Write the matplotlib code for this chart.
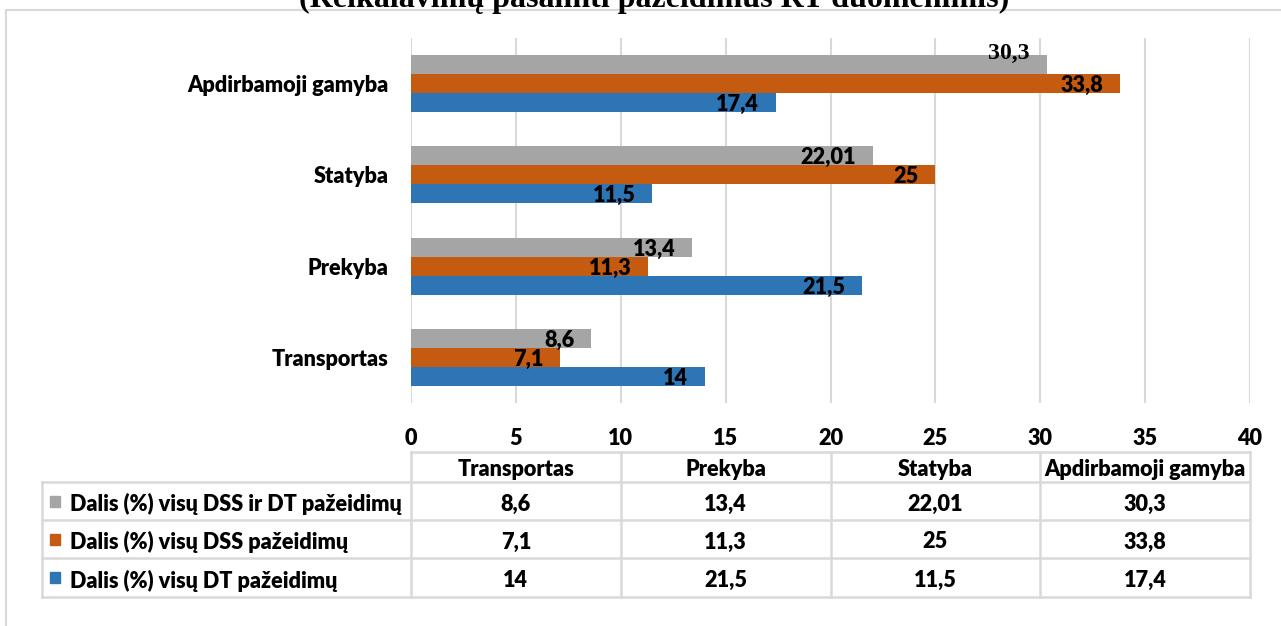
import numpy as np
import matplotlib.pyplot as plt
from matplotlib.patches import Rectangle
from matplotlib.lines import Line2D

# Data
categories = ['Transportas', 'Prekyba', 'Statyba', 'Apdirbamoji gamyba']
series_names = ['Dalis (%) visų DSS ir DT pažeidimų',
                'Dalis (%) visų DSS pažeidimų',
                'Dalis (%) visų DT pažeidimų']
dss_dt = [8.6, 13.4, 22.01, 30.3]
dss = [7.1, 11.3, 25, 33.8]
dt = [14, 21.5, 11.5, 17.4]
series = [dss_dt, dss, dt]
colors = ['#a5a5a5', '#c55a11', '#2e75b6']
x_ticks = np.arange(0, 45, 5)
title = '(Reikalavimų pašalinti pažeidimus RT duomenimis)'

FONT = 'Lato'
WEIGHT = 'heavy'
FS = 15.6
GRID = '#d9d9d9'
W, H = 1281, 626


def fmt(v):
    return f'{v:g}'.replace('.', ',')


def px(x0, y0, x1, y1):
    '''pixel box (top-left origin) -> figure fraction rect'''
    return [x0 / W, 1 - y1 / H, (x1 - x0) / W, (y1 - y0) / H]


fig = plt.figure(figsize=(W / 100, H / 100), dpi=100)

# outer chart frame (cut by the image border)
fig.add_artist(Line2D([5.5 / W, 5.5 / W], [0, 1 - 10 / H], color=GRID, lw=1.5))
fig.add_artist(Line2D([5.5 / W, 1], [1 - 10 / H, 1 - 10 / H], color=GRID, lw=1.5))

fig.text(654 / W, 1 - 7 / H, title, ha='center', va='baseline',
         family='Liberation Serif', fontweight='bold', fontsize=23)

# Bar chart
ax = fig.add_axes(px(411, 38, 1250, 403))
h = 0.208
y = np.arange(len(categories))
offsets = [h, 0, -h]
for vals, col, off in zip(series, colors, offsets):
    ax.barh(y + off, vals, height=h, color=col, zorder=2)
    for yi, v in zip(y, vals):
        yb = yi + off - h / 2 + 0.012
        if col == colors[0] and v == max(vals):
            # this one sits above the bar in a serif face
            ax.text(v - 0.8, yi + off + h / 2 - 0.045, fmt(v), ha='right',
                    va='baseline', family='Liberation Serif', fontweight='bold',
                    fontsize=FS + 1.5, zorder=3)
        else:
            ax.text(v - 0.8, yb, fmt(v), ha='right', va='baseline',
                    family=FONT, fontweight=WEIGHT, fontsize=FS, zorder=3)

ax.set_xlim(0, 40)
ax.set_ylim(-0.5, 3.5)
ax.set_xticks(x_ticks)
ax.set_xticklabels([str(t) for t in x_ticks])
ax.set_yticks(y)
ax.set_yticklabels(categories)
ax.tick_params(length=0)
ax.tick_params(axis='x', pad=18)
ax.tick_params(axis='y', pad=16)
for lab in ax.get_xticklabels() + ax.get_yticklabels():
    lab.set_family(FONT)
    lab.set_fontweight(WEIGHT)
    lab.set_fontsize(FS)
for lab in ax.get_yticklabels():
    lab.set_va('center_baseline')
ax.grid(axis='x', color=GRID, lw=1.5, zorder=0)
for s in ax.spines.values():
    s.set_visible(False)

# Data table under the chart
x_left = (42 - 411) / ((1250 - 411) / 40)
tax = fig.add_axes(px(42, 452, 1250, 598))
tax.set_xlim(x_left, 40)
tax.set_ylim(146, 0)
tax.axis('off')
rows = [0, 30, 68, 106, 145]
col_w = 10
kw = dict(color=GRID, lw=1.8, clip_on=False)
tax.plot([0, 40], [rows[0], rows[0]], **kw)
for r in rows[1:]:
    tax.plot([x_left, 40], [r, r], **kw)
tax.plot([x_left, x_left], [rows[1], rows[-1]], **kw)
for c in range(len(categories) + 1):
    tax.plot([c * col_w, c * col_w], [rows[0], rows[-1]], **kw)

for c, cat in enumerate(categories):
    tax.text(c * col_w + col_w / 2, (rows[0] + rows[1]) / 2 + 1, cat,
             ha='center', va='center_baseline', family=FONT,
             fontweight=WEIGHT, fontsize=FS)

for r, (name, vals, col) in enumerate(zip(series_names, series, colors)):
    yc = (rows[r + 1] + rows[r + 2]) / 2
    tax.add_patch(Rectangle((x_left + 0.38, yc - 5.5), 0.5, 11,
                            color=col, clip_on=False))
    tax.text(x_left + 1.33, yc + 1, name, ha='left', va='center_baseline',
             family=FONT, fontweight=WEIGHT, fontsize=FS)
    for c, v in enumerate(vals):
        tax.text(c * col_w + col_w / 2, yc + 1, fmt(v), ha='center',
                 va='center_baseline', family=FONT, fontweight=WEIGHT,
                 fontsize=FS)

fig.savefig('out.png', dpi=100)
